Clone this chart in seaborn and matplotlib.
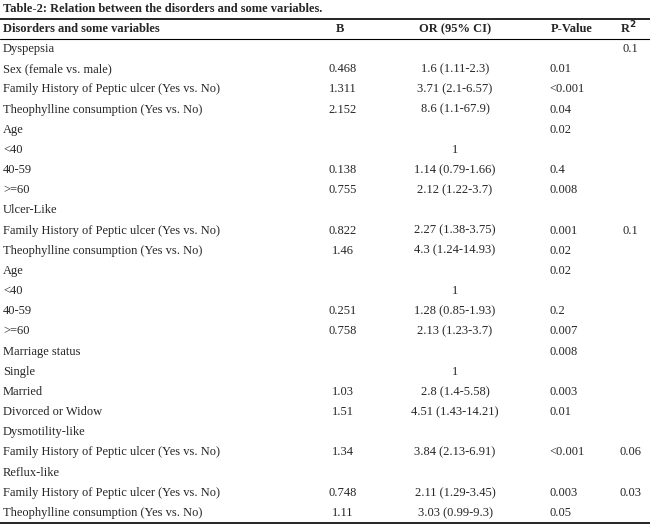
import matplotlib.pyplot as plt
import seaborn as sns

sns.set_style("white")
plt.rcParams["font.family"] = ["Liberation Serif", "DejaVu Serif"]

TITLE = "Table-2: Relation between the disorders and some variables."
HEADERS = ["Disorders and some variables", "B", "OR (95% CI)", "P-Value", "R$^{\\mathbf{2}}$"]
LABELS = [
    "Dyspepsia", "Sex (female vs. male)", "Family History of Peptic ulcer (Yes vs. No)",
    "Theophylline consumption (Yes vs. No)", "Age", "<40", "40-59", ">=60",
    "Ulcer-Like", "Family History of Peptic ulcer (Yes vs. No)",
    "Theophylline consumption (Yes vs. No)", "Age", "<40", "40-59", ">=60",
    "Marriage status", "Single", "Married", "Divorced or Widow", "Dysmotility-like",
    "Family History of Peptic ulcer (Yes vs. No)", "Reflux-like",
    "Family History of Peptic ulcer (Yes vs. No)", "Theophylline consumption (Yes vs. No)",
]
B = ["", "0.468", "1.311", "2.152", "", "", "0.138", "0.755", "", "0.822", "1.46", "",
     "", "0.251", "0.758", "", "", "1.03", "1.51", "", "1.34", "", "0.748", "1.11"]
OR = ["", "1.6 (1.11-2.3)", "3.71 (2.1-6.57)", "8.6 (1.1-67.9)", "", "1",
      "1.14 (0.79-1.66)", "2.12 (1.22-3.7)", "", "2.27 (1.38-3.75)", "4.3 (1.24-14.93)",
      "", "1", "1.28 (0.85-1.93)", "2.13 (1.23-3.7)", "", "1", "2.8 (1.4-5.58)",
      "4.51 (1.43-14.21)", "", "3.84 (2.13-6.91)", "", "2.11 (1.29-3.45)", "3.03 (0.99-9.3)"]
PVAL = ["", "0.01", "<0.001", "0.04", "0.02", "", "0.4", "0.008", "", "0.001", "0.02",
        "0.02", "", "0.2", "0.007", "0.008", "", "0.003", "0.01", "", "<0.001", "",
        "0.003", "0.05"]
R2 = ["0.1", "", "", "", "", "", "", "", "", "0.1", "", "", "", "", "", "", "", "", "",
      "", "0.06", "", "0.03", ""]

fig, ax = plt.subplots(figsize=(6.5, 5.28), dpi=100)
fig.subplots_adjust(0, 0, 1, 1)
ax.set_xlim(0, 650)
ax.set_ylim(528, 0)
ax.axis("off")

fs = 9
ax.text(3, 9, TITLE, fontsize=fs, fontweight="bold", va="center")
for y, lw in [(19, 1.2), (39, 0.8), (523, 1.2)]:
    ax.axhline(y, color="black", lw=lw)
hy = 29
ax.text(3, hy, HEADERS[0], fontsize=fs, fontweight="bold", va="center")
ax.text(340, hy, HEADERS[1], fontsize=fs, fontweight="bold", va="center", ha="center")
ax.text(455, hy, HEADERS[2], fontsize=fs, fontweight="bold", va="center", ha="center")
ax.text(572, hy, HEADERS[3], fontsize=fs, fontweight="bold", va="center", ha="center")
ax.text(628, hy - 1, HEADERS[4], fontsize=fs, fontweight="bold", va="center", ha="center")

step = (513 - 49) / (len(LABELS) - 1)
for i, lab in enumerate(LABELS):
    y = 49 + i * step
    ax.text(3, y, lab, fontsize=fs, va="center")
    ax.text(343, y, B[i], fontsize=fs, va="center", ha="center")
    ax.text(455, y, OR[i], fontsize=fs, va="center", ha="center")
    ax.text(549, y, PVAL[i], fontsize=fs, va="center", ha="left")
    ax.text(630, y, R2[i], fontsize=fs, va="center", ha="center")

fig.savefig("out.png", dpi=100)
